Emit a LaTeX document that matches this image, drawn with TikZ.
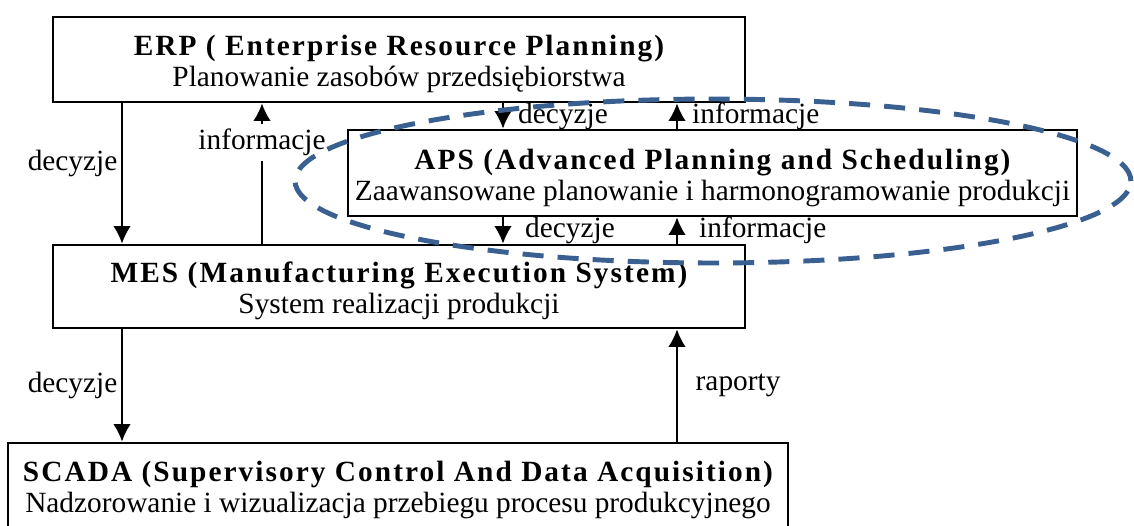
\documentclass[tikz,border=0pt]{standalone}
\usepackage{fontspec}
\setmainfont{Liberation Serif}
\usetikzlibrary{arrows.meta,shapes.geometric}
\definecolor{ellblue}{RGB}{58,95,145}
\newcommand\headline[1]{\rule{0pt}{17pt}{\bfseries\addfontfeatures{LetterSpace=7}#1}}
\tikzset{box/.style={draw, line width=1.5pt, align=center, inner sep=0pt, font=\fontsize{16.7}{17.5}\selectfont}}
\tikzset{l/.style={font=\fontsize{16.7}{16.7}\selectfont, inner sep=1pt}}
\tikzset{lr/.style={l, right, xshift=7pt}}
\tikzset{ll/.style={l, left, xshift=-1pt}}

\begin{document}
\begin{tikzpicture}[x=0.02cm, y=-0.02cm, line width=1.3pt, >={Latex[length=10pt,width=10pt]}]
  \useasboundingbox (0,0) rectangle (1134,525);
  \clip (0,0) rectangle (1134,525);

  \node[box, minimum width=13.84cm, minimum height=1.7cm] (erp) at (399,59.5)
    {\headline{ERP ( Enterprise Resource Planning)}\\Planowanie zasobów przedsiębiorstwa};
  \node[box, minimum width=14.58cm, minimum height=1.72cm] (aps) at (712.5,173)
    {\headline{APS (Advanced Planning and Scheduling)}\\Zaawansowane planowanie i harmonogramowanie produkcji};
  \node[box, minimum width=13.84cm, minimum height=1.66cm] (mes) at (399,286.5)
    {\headline{MES (Manufacturing Execution System)}\\System realizacji produkcji};
  \node[box, minimum width=15.6cm, minimum height=1.68cm] (scada) at (398,485)
    {\headline{SCADA (Supervisory Control And Data Acquisition)}\\Nadzorowanie i wizualizacja przebiegu procesu produkcyjnego};

  % arrow columns
  \coordinate (xa) at (122,0);
  \coordinate (xb) at (262,0);
  \coordinate (xc) at (503,0);
  \coordinate (xd) at (677,0);

  \draw[->] (erp.south -| xa) -- node[ll, pos=0.43] {decyzje} (mes.north -| xa);
  \draw[->] (mes.north -| xb) -- node[l, fill=white, pos=0.72, inner sep=3pt] {informacje} (erp.south -| xb);

  \draw[->] (erp.south -| xc) -- node[lr] {decyzje} (aps.north -| xc);
  \draw[->] (aps.north -| xd) -- node[lr] {informacje} (erp.south -| xd);
  \draw[->] (aps.south -| xc) -- node[lr, xshift=4pt] {decyzje} (mes.north -| xc);
  \draw[->] (mes.north -| xd) -- node[lr, xshift=4pt] {informacje} (aps.south -| xd);

  \draw[->] (mes.south -| xa) -- node[ll] {decyzje} (scada.north -| xa);
  \draw[->] (scada.north -| xd) -- node[lr, xshift=2pt] {raporty} (mes.south -| xd);

  % APS scope
  \node[draw=ellblue, line width=2.8pt, dash pattern=on 12pt off 8pt, ellipse, minimum width=16.72cm, minimum height=3.28cm, inner sep=0pt] (apsring) at (713,181) {};
\end{tikzpicture}
\end{document}
